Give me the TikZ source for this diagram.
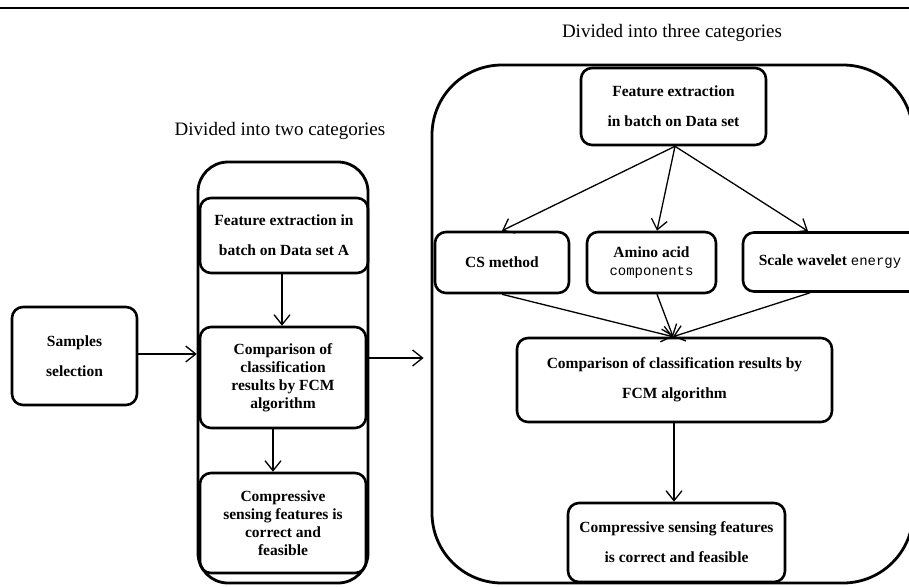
\documentclass[tikz,border=0pt]{standalone}
\usepackage{fontspec}
\setmainfont{Liberation Serif}
\setmonofont{Liberation Mono}
\usetikzlibrary{arrows.meta}
\tikzset{
  box/.style={draw, line width=2.6pt, rounded corners=11pt, align=center, inner sep=0pt,
    font=\bfseries\fontsize{15.5}{18}\selectfont},
  wide/.style={font=\bfseries\fontsize{15.5}{30}\selectfont},
  container/.style={draw, line width=2.8pt, inner sep=0pt},
  arr/.style={line width=1.3pt, -{Straight Barb[length=10pt,width=16pt,line width=1.3pt]}},
  title/.style={font=\fontsize{19}{22}\selectfont, inner sep=0pt}
}
\begin{document}
\begin{tikzpicture}[x=1pt,y=-1pt]
\useasboundingbox (0,0) rectangle (909,586);
\draw[line width=2.8pt] (0,8) -- (909,8);
% titles
\node[title] (t3) at (672,33) {Divided into three categories};
\node[title] (t2) at (280,131) {Divided into two categories};
% containers
\node[container, rounded corners=30pt, minimum width=170pt, minimum height=421pt] (lc) at (283,372.5) {};
\node[container, rounded corners=70pt, minimum width=481pt, minimum height=518pt] (rc) at (672.5,324) {};
% left part
\node[box, wide, minimum width=125pt, minimum height=98pt] (samp) at (74.5,356) {Samples\\selection};
\node[box, wide, minimum width=168pt, minimum height=75pt] (featA) at (284,235.5) {Feature extraction in\\batch on Data set A};
\node[box, minimum width=166pt, minimum height=101pt] (compA) at (283,377.5) {Comparison of\\classification\\results by FCM\\algorithm};
\node[box, minimum width=166pt, minimum height=100pt] (cspA) at (283,523) {Compressive\\sensing features is\\correct and\\feasible};
% right part
\node[box, wide, minimum width=185pt, minimum height=77pt] (featB) at (673.5,106.5) {Feature extraction\\in batch on Data set};
\node[box, minimum width=134pt, minimum height=61pt] (cs) at (502,262.5) {CS method};
\node[box, minimum width=129pt, minimum height=61pt] (amino) at (651.5,262.5) {Amino acid\\{\mdseries\ttfamily\fontsize{14}{18}\selectfont components}};
\node[box, minimum width=190pt, minimum height=59pt] (scale) at (838,262) {Scale wavelet {\mdseries\ttfamily\fontsize{14}{18}\selectfont energy}\hspace*{16pt}};
\node[box, wide, minimum width=315pt, minimum height=84pt] (compB) at (674.5,380) {Comparison of classification results by\\FCM algorithm};
\node[box, wide, minimum width=217pt, minimum height=79pt] (cspB) at (676.5,542.5) {Compressive sensing features\\is correct and feasible};
% helper coordinates
\coordinate (sA) at ([yshift=2pt]samp.east);
\coordinate (cAe) at ([yshift=19.5pt]compA.east);
\coordinate (rcin) at ([xshift=-7pt]rc.west);
% arrows left
\draw[arr] ([xshift=-2pt]featA.south) -- ([xshift=-1pt]compA.north);
\draw[arr] ([xshift=-10pt]compA.south) -- ([xshift=-10pt]cspA.north);
\draw[arr] (sA) -- ([xshift=-2pt]sA -| compA.west);
\draw[arr] (cAe) -- (rcin |- cAe);
% arrows right
\coordinate (src) at ([xshift=1.5pt]featB.south);
\coordinate (dst) at ([xshift=-1.5pt]compB.north);
\draw[arr] (src) -- (cs.north);
\draw[arr] (src) -- ([xshift=5.5pt]amino.north);
\draw[arr] (src) -- ([xshift=-30pt]scale.north);
\draw[arr] (cs.south) -- (dst);
\draw[arr] ([xshift=5.5pt]amino.south) -- (dst);
\draw[arr] ([xshift=-28pt]scale.south) -- (dst);
\draw[arr] ([xshift=-0.5pt]compB.south) -- ([xshift=-0.5pt]compB.south |- cspB.north);
\end{tikzpicture}
\end{document}
